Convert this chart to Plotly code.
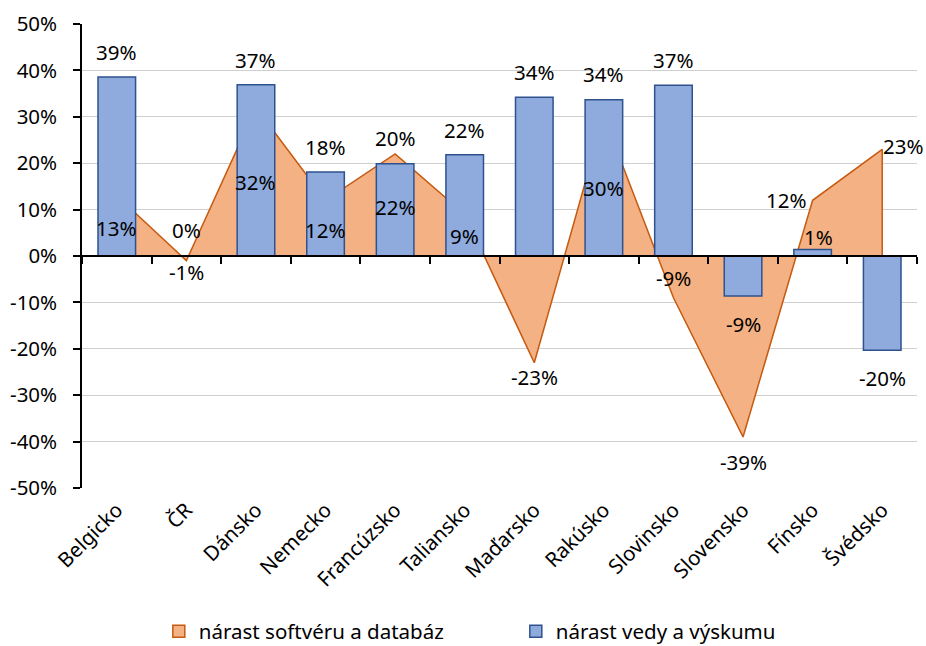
import plotly.graph_objects as go

categories = ["Belgicko", "ČR", "Dánsko", "Nemecko", "Francúzsko", "Taliansko",
              "Maďarsko", "Rakúsko", "Slovinsko", "Slovensko", "Fínsko", "Švédsko"]
software = [13, -1, 32, 12, 22, 9, -23, 30, -9, -39, 12, 23]
research = [38.6, 0, 36.9, 18.1, 19.9, 21.8, 34.2, 33.7, 36.8, -8.6, 1.4, -20.3]
y_ticks = [-50, -40, -30, -20, -10, 0, 10, 20, 30, 40, 50]
series_names = ["nárast softvéru a databáz", "nárast vedy a výskumu"]

# label placement (value units for area labels, pixel shifts)
area_label_y = [6.0, -3.4, 16, 5.6, 10.6, 4.3, -26, 14.6, -4.8, -44.4, 12, 23.8]
area_label_dx = [0, 0, 0, 0, 0, 0, 0, 0, 0, 0, -26, 21]
bar_label_dy = [25, 26, 25, 25, 26, 25, 25, 26, 25, -28, 13, -28]
bar_label_dx = [0, 0, 0, 0, 0, 0, 0, 0, 0, 0, 6, 0]

FONT = "Noto Sans"
FS = 20.5
ORANGE_FILL = "#F4B183"
ORANGE_LINE = "#C55A11"
BLUE_FILL = "#8FAADC"
BLUE_LINE = "#2F528F"

fig = go.Figure()

# area polygon closed along the baseline
fig.add_trace(go.Scatter(
    x=categories + [categories[-1], categories[0]],
    y=software + [0, 0],
    mode="lines",
    fill="toself",
    fillcolor=ORANGE_FILL,
    line=dict(color=ORANGE_LINE, width=1.5),
    name=series_names[0],
    showlegend=False,
    hoverinfo="skip",
))

fig.add_trace(go.Bar(
    x=categories,
    y=research,
    width=0.54,
    marker=dict(color=BLUE_FILL, line=dict(color=BLUE_LINE, width=1.5)),
    name=series_names[1],
    showlegend=False,
    xaxis="x2",
))

# legend entries with square swatches
for nm, fc, lc in zip(series_names, [ORANGE_FILL, BLUE_FILL], [ORANGE_LINE, BLUE_LINE]):
    fig.add_trace(go.Bar(x=[None], y=[None], name=nm,
                         marker=dict(color=fc, line=dict(color=lc, width=1.5)),
                         showlegend=True, hoverinfo="skip"))

annotations = []
for c, v, ly, dx in zip(categories, software, area_label_y, area_label_dx):
    annotations.append(dict(x=c, y=ly, xref="x", yref="y", text=f"{round(v)}%",
                            showarrow=False, xshift=dx,
                            font=dict(family=FONT, size=FS, color="#000000")))
for c, v, dy, dx in zip(categories, research, bar_label_dy, bar_label_dx):
    annotations.append(dict(x=c, y=v, xref="x", yref="y", text=f"{round(v)}%",
                            showarrow=False, yshift=dy, xshift=dx,
                            font=dict(family=FONT, size=FS, color="#000000")))

n = len(categories)
fig.update_layout(
    width=926, height=670,
    margin=dict(l=82, r=9, t=24, b=182),
    paper_bgcolor="white", plot_bgcolor="white",
    font=dict(family=FONT, size=FS, color="#000000"),
    showlegend=True,
    barmode="overlay",
    legend=dict(orientation="h", x=0.092, xanchor="left", yref="paper",
                y=-0.309, yanchor="middle", font=dict(family=FONT, size=FS),
                entrywidth=312, itemwidth=30, traceorder="normal"),
    xaxis=dict(type="category", categoryorder="array", categoryarray=categories,
               range=[-0.5, n - 0.5], showgrid=False, showline=False, ticks="",
               tickangle=-45, tickfont=dict(family=FONT, size=FS), zeroline=False,
               automargin=False, ticklabelstandoff=5),
    xaxis2=dict(type="category", categoryorder="array", categoryarray=categories,
                range=[-0.5, n - 0.5], overlaying="x", anchor="free", position=0.5,
                showgrid=False, showline=True, linecolor="#000000", linewidth=1.5,
                ticks="outside", tickson="boundaries", ticklen=7, tickcolor="#000000",
                tickwidth=1.5, showticklabels=False, zeroline=False, automargin=False),
    yaxis=dict(range=[-50, 50], tickvals=y_ticks, ticktext=[f"{t}%" for t in y_ticks],
               showgrid=True, gridcolor="#D0D0D0", gridwidth=1.3,
               showline=True, linecolor="#000000", linewidth=1.5,
               ticks="outside", ticklen=7, tickcolor="#000000", tickwidth=1.5,
               zeroline=False, tickfont=dict(family=FONT, size=FS), automargin=False,
               ticklabelstandoff=12),
    annotations=annotations,
)

fig.write_html(
    "out.html",
    config={"displayModeBar": False},
    post_script="document.body.style.margin='0';document.body.style.overflow='hidden';",
)
